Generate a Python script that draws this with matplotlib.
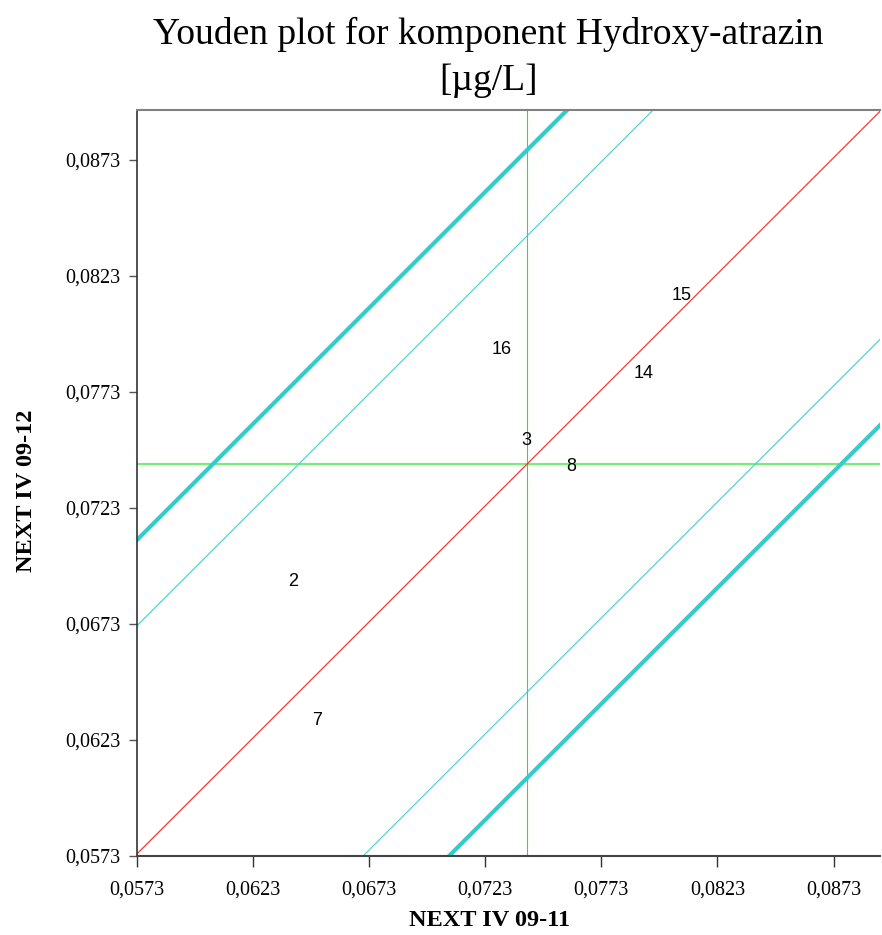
import matplotlib.pyplot as plt
import numpy as np

# Lab results for the two samples (x: NEXT IV 09-11, y: NEXT IV 09-12)
labs = ['16', '15', '14', '3', '8', '2', '7']
sampleX = [0.07299, 0.08075, 0.07911, 0.07407, 0.07601, 0.06402, 0.06506]
sampleY = [0.07911, 0.08144, 0.07808, 0.07519, 0.07407, 0.06911, 0.06312]

# Medians and band offsets from the diagonal
medianX = 0.07411
medianY = 0.07420
innerOffset = 0.00983
outerOffset = 0.01353

ticks = [0.0573, 0.0623, 0.0673, 0.0723, 0.0773, 0.0823, 0.0873]
xMin, xMax = 0.0573, 0.0893
yMin, yMax = 0.0573, 0.08945

fig = plt.figure(figsize=(8.82, 9.35), dpi=100)
ax = fig.add_axes([0.1553, 0.0845, 0.8424, 0.7979])

xs = np.array([xMin - 0.01, xMax + 0.01])
diagShift = medianY - medianX

# Diagonal and the tolerance bands
ax.plot(xs, xs + diagShift, color='#ff3333', lw=0.9, zorder=2)
for off in (innerOffset, -innerOffset):
    ax.plot(xs, xs + diagShift + off, color='#40d0d0', lw=0.8, zorder=2)
for off in (outerOffset, -outerOffset):
    ax.plot(xs, xs + diagShift + off, color='#33cccc', lw=3, zorder=2)

# Median cross-hair
ax.axhline(medianY, color='#77ee77', lw=1.6, zorder=1)
ax.axvline(medianX, color='#33dd33', lw=0.8, zorder=1)

for lab, x, y in zip(labs, sampleX, sampleY):
    ax.text(x, y, lab, ha='center', va='center', fontsize=13,
            family='Liberation Sans', color='black', zorder=3)

ax.set_xlim(xMin, xMax)
ax.set_ylim(yMin, yMax)
ax.set_xticks(ticks)
ax.set_yticks(ticks)
tickLabels = [('%.4f' % t).replace('.', ',') for t in ticks]
ax.set_xticklabels(tickLabels, family='Liberation Serif', fontsize=14.5)
ax.set_yticklabels(tickLabels, family='Liberation Serif', fontsize=14.5)
ax.tick_params(axis='x', length=8, width=1, color='#333333', pad=10)
ax.tick_params(axis='y', length=6, width=1, color='#555555', pad=6)

ax.spines['right'].set_visible(False)
ax.spines['top'].set_color('#808080')
ax.spines['top'].set_linewidth(1.5)
ax.spines['left'].set_color('#333333')
ax.spines['left'].set_linewidth(1.2)
ax.spines['bottom'].set_color('#444444')
ax.spines['bottom'].set_linewidth(1.5)

ax.set_xlabel('NEXT IV 09-11', family='Liberation Serif', fontsize=17.5,
              fontweight='bold')
ax.xaxis.set_label_coords(0.475, -0.072)
ax.set_ylabel('NEXT IV 09-12', family='Liberation Serif', fontsize=17.5,
              fontweight='bold')
ax.yaxis.set_label_coords(-0.134, 0.49)

fig.suptitle('Youden plot for komponent Hydroxy-atrazin\n[µg/L]',
             family='Liberation Serif', fontsize=27, y=0.982, x=0.554,
             linespacing=1.45)

plt.savefig('out.png')
